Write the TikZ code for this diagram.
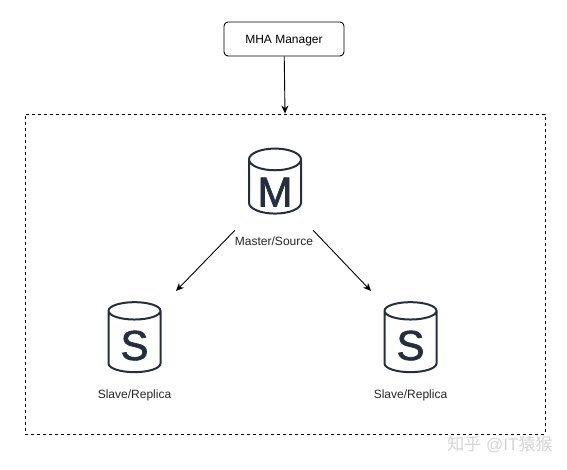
\documentclass[tikz,border=0pt]{standalone}
\usepackage{fontspec}
\setmainfont{Liberation Sans}
\newfontfamily\cjkfont{Noto Sans CJK SC}
\newfontfamily\dbfont[FakeBold=1.6]{Liberation Sans}
\usepackage{tikz}
\usetikzlibrary{arrows.meta,positioning,shapes.geometric}
\definecolor{ink}{RGB}{0,0,0}
\definecolor{dbink}{RGB}{35,47,62}
\definecolor{wmgrey}{RGB}{212,212,212}
\tikzset{
  box/.style={draw=ink,rounded corners=4pt,fill=white,line width=.9pt,text height=11pt,text depth=2pt,
    minimum width=120pt,minimum height=34pt,font=\fontsize{12}{14}\selectfont},
  grp/.style={draw=ink,dashed,line width=.9pt,minimum width=520pt,minimum height=320pt},
  dbm/.style={cylinder,shape border rotate=90,aspect=.62,draw=dbink,line width=2pt,
    minimum width=52pt,inner sep=0pt,text=dbink,font=\dbfont\fontsize{42}{42}\selectfont},
  lbl/.style={font=\fontsize{12}{14}\selectfont,text=ink!85,inner xsep=0pt},
  ar/.style={-{Stealth[length=8pt,width=7pt]},line width=.9pt},
}
\newcommand{\dbletter}[2][-18pt]{\raisebox{#1}[0pt][0pt]{#2}}
\begin{document}
\begin{tikzpicture}[x=1pt,y=-1pt]
  \useasboundingbox (0,0) rectangle (567,470);
  \node[box] (mgr) at (284,39) {MHA Manager};
  \node[grp] (group) at (285,274) {};
  \node[dbm,minimum height=65pt] (master) at (275,187) {\dbletter[-19.5pt]{M}};
  \node[dbm,minimum height=70pt] (slaveL) at (134.5,342) {\dbletter{S}};
  \node[dbm,minimum height=70pt] (slaveR) at (410.5,342) {\dbletter{S}};
  \node[lbl,inner ysep=6pt] (lmaster) at (274,241) {Master/Source};
  \node[lbl] (lslaveL) at (134.5,395) {Slave/Replica};
  \node[lbl] (lslaveR) at (410.5,395) {Slave/Replica};
  \coordinate (endL) at (176,291);
  \coordinate (endR) at (371,291);
  \draw[ar] (mgr) -- (group.north);
  \draw[ar] (lmaster.north west) -- (endL);
  \draw[ar] (lmaster.north east) -- (endR);
  % watermark
  \node[text=wmgrey,font=\fontsize{17}{19}\selectfont,inner sep=0pt] (wm) at (500,445)
    {{\cjkfont 知乎} @IT{\cjkfont 猿猴}};
\end{tikzpicture}
\end{document}
